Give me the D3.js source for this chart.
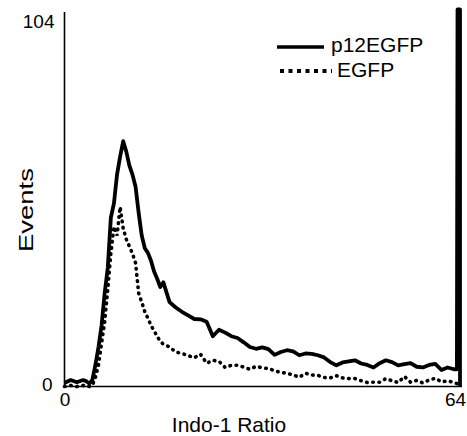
<!DOCTYPE html>
<meta charset="utf-8">
<style>
body { margin: 0; background: #fff; }
svg { font-family: "Liberation Sans", Arial, sans-serif; }
.axis path { stroke: #000; stroke-width: 1.6; }
.axis text { font-size: 19px; fill: #000; }
</style>
<body>
<script src="https://d3js.org/d3.v7.min.js"></script>
<script>
// channel (Indo-1 ratio bins)
var channels = [0, 1, 2, 3, 3.5, 4, 4.5, 5, 5.5, 6, 6.5, 7, 7.5, 8, 8.5, 9, 9.5, 10, 10.5, 11, 11.5,
  12, 12.5, 13, 13.5, 14, 14.5, 15, 15.5, 16, 17, 18, 19, 20, 21, 22, 23, 24, 25, 26, 27, 28,
  29, 30, 31, 32, 33, 34, 35, 36, 37, 38, 39, 40, 41, 42, 43, 44, 45, 46, 47, 48, 49, 50,
  51, 52, 53, 54, 55, 56, 57, 58, 59, 60, 61, 62, 63, 63.5, 63.6, 64, 64];

var p12egfp = [1.0, 1.8, 1.2, 1.8, 1.5, 0.8, 1.8, 6, 11, 17, 26, 33, 47, 51, 59, 64, 68.3, 65.4, 61.5, 59, 55.6,
  48.4, 42, 38.5, 37.2, 35, 32, 30, 27.7, 29, 23.5, 22, 20.8, 19.8, 18.8, 18.7, 18, 14, 15.8, 15, 14, 13.5,
  12.3, 11, 10.5, 10.9, 10.4, 8.8, 9.6, 10.1, 9.8, 8.7, 9.2, 9.1, 8.7, 8.1, 6.8, 5.9, 6.7, 7.0, 7.3, 6.4, 6.0, 5.3,
  6.5, 7.3, 6.8, 5.9, 6.2, 6.5, 5.5, 5.3, 6, 6.3, 4.6, 5.3, 4.8, 4.8, 105, 105, 0];

var egfp = [0, 0.3, 0, 0.3, 0, 0, 0.3, 2.5, 6, 12, 18, 27, 37, 44.5, 42, 50, 44, 41, 39, 37, 34.4,
  26, 23.5, 20.8, 19, 17, 15.5, 14, 12.5, 11.8, 11, 9.6, 9.2, 8.6, 8.0, 9, 6.5, 7.3, 7.0, 5.3, 5.9, 5.9,
  5.4, 4.8, 5.6, 5.2, 5.0, 4.4, 3.9, 3.7, 3.2, 2.6, 3.7, 3.2, 3.1, 2.5, 2.4, 3.0, 2.4, 2.2, 2.2, 1.6, 1.1, 1.2,
  1.2, 2.2, 1.6, 1.1, 2.8, 1.2, 1.7, 1.0, 1.8, 2.3, 1.3, 1.6, 1.1, 0.8, 0.5, 0.3, 0];

var xTicks = [0, 64];
var yTicks = [0, 104];
var seriesNames = ["p12EGFP", "EGFP"];

var width = 467, height = 436;

var x = d3.scaleLinear().domain([0, 64]).range([64.5, 460]);
var y = d3.scaleLinear().domain([0, 104]).range([386.5, 13]);

var svg = d3.select("body").append("svg")
  .attr("width", width)
  .attr("height", height);

// axes
var gx = svg.append("g")
  .attr("class", "axis")
  .attr("transform", "translate(0," + y(0) + ")")
  .call(d3.axisBottom(x).tickValues(xTicks).tickSize(0).tickPadding(6).tickFormat(d3.format("d")));
gx.select(".domain").attr("d", "M" + x(0) + ",0H462");
gx.selectAll(".tick text").attr("dx", function(d) { return d === 64 ? -5 : 0; });

var gy = svg.append("g")
  .attr("class", "axis")
  .attr("transform", "translate(" + x(0) + ",0)")
  .call(d3.axisLeft(y).tickValues(yTicks).tickSize(0).tickPadding(10).tickFormat(d3.format("d")));
gy.select(".domain").attr("d", "M0," + y(0) + "V12");
gy.selectAll(".tick text")
  .attr("dy", function(d) { return d === 104 ? "0.75em" : "0.2em"; })
  .attr("dx", function(d) { return d === 104 ? 0 : -2; });

// axis titles
svg.append("text")
  .attr("x", 229)
  .attr("y", 432)
  .attr("text-anchor", "middle")
  .attr("font-size", 21)
  .text("Indo-1 Ratio");

svg.append("text")
  .attr("transform", "translate(33,210) rotate(-90)")
  .attr("text-anchor", "middle")
  .attr("font-size", 21)
  .attr("textLength", 84)
  .attr("lengthAdjust", "spacingAndGlyphs")
  .text("Events");

// curves
var line = d3.line()
  .x(function(d) { return x(d[0]); })
  .y(function(d) { return y(d[1]); });

svg.append("path")
  .datum(channels.map(function(c, i) { return [c, egfp[i]]; }))
  .attr("fill", "none")
  .attr("stroke", "#000")
  .attr("stroke-width", 3.6)
  .attr("stroke-linecap", "round")
  .attr("stroke-dasharray", "0.6,5.6")
  .attr("d", line);

svg.append("path")
  .datum(channels.map(function(c, i) { return [c, p12egfp[i]]; }))
  .attr("fill", "none")
  .attr("stroke", "#000")
  .attr("stroke-width", 3.8)
  .attr("stroke-linejoin", "round")
  .attr("d", line);

// legend
var legend = svg.append("g");
legend.append("line")
  .attr("x1", 277).attr("x2", 324).attr("y1", 47).attr("y2", 47)
  .attr("stroke", "#000").attr("stroke-width", 3.5);
legend.append("text")
  .attr("x", 331).attr("y", 52).attr("font-size", 21)
  .text(seriesNames[0]);
legend.append("line")
  .attr("x1", 280).attr("x2", 332).attr("y1", 71).attr("y2", 71)
  .attr("stroke", "#000").attr("stroke-width", 4)
  .attr("stroke-dasharray", "4,4.5");
legend.append("text")
  .attr("x", 337).attr("y", 77).attr("font-size", 21)
  .text(seriesNames[1]);
</script>
</body>
